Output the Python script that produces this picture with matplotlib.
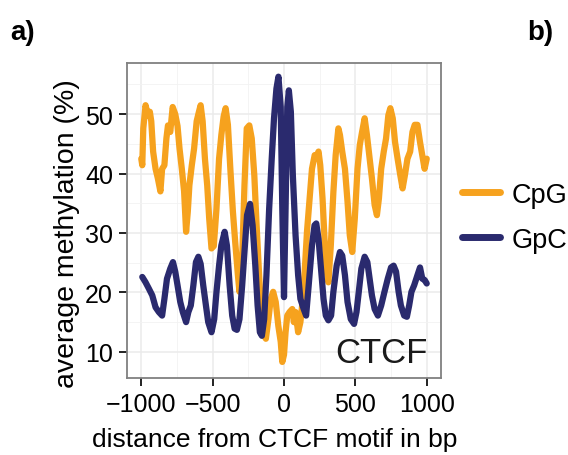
import matplotlib
matplotlib.use("Agg")
import matplotlib.pyplot as plt
from matplotlib.ticker import MultipleLocator

plt.rcParams['font.family'] = ['Liberation Sans', 'DejaVu Sans']

# CpG methylation around CTCF motif
cpg_pos = [-1000, -993, -986, -970, -953, -940, -930, -917, -900, -884, -866, -854,
           -838, -824, -813, -797, -780, -762, -746, -732, -716, -700, -686, -674,
           -663, -646, -630, -612, -596, -584, -570, -554, -538, -524, -508, -492,
           -473, -455, -439, -423, -409, -393, -376, -358, -342, -323, -312, -293,
           -277, -261, -243, -226, -208, -192, -173, -155, -139, -127, -109, -93,
           -76, -58, -40, -23, -12, 0, 11, 23, 39, 58, 69, 81, 99, 115, 127, 145,
           161, 178, 196, 215, 231, 242, 254, 270, 284, 300, 311, 328, 346, 362,
           381, 392, 408, 427, 445, 461, 478, 496, 515, 531, 547, 565, 581, 600,
           616, 635, 651, 665, 681, 699, 715, 731, 745, 762, 778, 796, 815, 831,
           847, 865, 884, 900, 916, 935, 953, 969, 985, 1000]
cpg_val = [42.5, 41.4, 47.6, 51.5, 49.8, 50.4, 48.8, 43.7, 40.8, 39.2, 37.0, 40.8,
           41.4, 45.9, 48.1, 47.0, 51.2, 50.0, 48.0, 44.2, 40.8, 37.0, 30.2, 33.6,
           38.0, 41.4, 44.2, 48.8, 50.4, 51.5, 48.8, 42.5, 38.0, 32.4, 27.4, 27.8,
           34.1, 42.5, 46.5, 49.6, 51.0, 48.2, 40.8, 33.6, 28.5, 22.9, 20.1, 25.7,
           38.0, 47.6, 48.1, 45.9, 39.7, 31.3, 22.3, 15.0, 12.7, 12.2, 15.5, 18.9,
           20.1, 18.4, 14.4, 11.7, 8.3, 9.5, 13.3, 16.1, 16.7, 17.2, 15.0, 16.7,
           13.3, 15.0, 17.8, 23.5, 30.2, 35.3, 40.8, 43.1, 43.1, 43.7, 41.4, 35.8,
           29.0, 23.4, 21.7, 27.9, 36.9, 43.1, 47.6, 46.5, 43.7, 40.8, 35.3, 29.6,
           26.8, 32.4, 40.8, 44.8, 47.0, 49.3, 46.5, 42.5, 39.2, 34.7, 33.0, 35.8,
           40.8, 43.7, 45.9, 49.8, 51.0, 49.3, 45.3, 42.5, 39.7, 37.5, 39.7, 42.5,
           43.7, 47.0, 48.2, 48.2, 45.3, 43.1, 40.8, 42.5]

# GpC methylation around CTCF motif
gpc_pos = [-993, -970, -946, -923, -900, -877, -854, -838, -820, -797, -778, -762,
           -746, -727, -709, -686, -670, -653, -635, -617, -600, -584, -566, -547,
           -531, -508, -489, -473, -455, -439, -416, -400, -381, -363, -346, -330,
           -312, -293, -277, -259, -238, -220, -201, -185, -169, -155, -139, -123,
           -104, -86, -70, -53, -39, -23, -12, 0, 11, 23, 34, 48, 62, 81, 99, 115,
           138, 155, 173, 196, 214, 226, 242, 261, 277, 293, 311, 330, 346, 369,
           392, 408, 427, 445, 468, 491, 508, 524, 542, 565, 584, 600, 616, 635,
           658, 681, 704, 727, 750, 768, 785, 803, 819, 842, 861, 877, 893, 912,
           935, 953, 969, 985, 1000]
gpc_val = [22.6, 21.7, 20.6, 19.5, 17.5, 16.7, 16.1, 18.9, 22.3, 24.0, 25.1, 23.5,
           21.2, 18.4, 16.7, 15.0, 16.7, 17.8, 21.2, 25.1, 26.0, 24.8, 21.2, 17.8,
           15.0, 13.3, 15.5, 20.1, 24.5, 27.9, 30.2, 27.9, 21.2, 16.1, 13.9, 13.7,
           15.5, 21.2, 26.8, 33.0, 34.9, 31.3, 24.5, 17.8, 13.3, 12.7, 15.5, 22.9,
           34.1, 42.5, 49.3, 54.3, 56.3, 51.2, 34.1, 19.2, 34.1, 51.2, 54.0, 50.4,
           39.7, 29.6, 22.9, 18.9, 17.2, 16.1, 21.2, 27.9, 31.3, 31.6, 29.0, 23.5,
           18.9, 16.1, 15.3, 16.1, 20.1, 24.5, 26.8, 26.2, 22.9, 18.4, 15.5, 14.7,
           16.7, 20.1, 24.0, 26.0, 25.1, 22.3, 19.5, 17.2, 16.1, 17.8, 20.1, 22.3,
           24.2, 24.5, 23.5, 20.1, 17.8, 16.1, 15.9, 17.8, 20.1, 21.2, 22.9, 24.2,
           22.3, 22.1, 21.5]

orange = "#F6A21E"
navy = "#2A2A6E"

fig = plt.figure(figsize=(5.68, 4.56), dpi=100)
ax = fig.add_axes([0.2236, 0.1689, 0.5528, 0.6907])

ax.plot(cpg_pos, cpg_val, color=orange, lw=4.5, label="CpG",
        solid_joinstyle="round", solid_capstyle="round")
ax.plot(gpc_pos, gpc_val, color=navy, lw=4.5, label="GpC",
        solid_joinstyle="round", solid_capstyle="round")

ax.set_xlim(-1100, 1100)
ax.set_ylim(5.6, 58.6)
ax.set_xticks([-1000, -500, 0, 500, 1000])
ax.set_xticklabels(["\u22121000", "\u2212500", "0", "500", "1000"])
ax.xaxis.set_minor_locator(MultipleLocator(250))
ax.yaxis.set_major_locator(MultipleLocator(10))
ax.yaxis.set_minor_locator(MultipleLocator(5))
ax.grid(which="major", color="#EBEBEB", lw=1.1)
ax.grid(which="minor", color="#F2F2F2", lw=0.6)
ax.set_axisbelow(True)
for s in ax.spines.values():
    s.set_color("#808080")
    s.set_linewidth(1.3)
ax.tick_params(which="major", length=6, width=1.4, color="#222222",
               labelsize=18, labelcolor="black", pad=4)
ax.tick_params(which="minor", length=0)

ax.set_xlabel("distance from CTCF motif in bp", fontsize=19, labelpad=4)
ax.xaxis.set_label_coords(0.471, -0.155)
ax.xaxis.label.set_va("top")
ax.set_ylabel("average methylation (%)", fontsize=20.5)
ax.yaxis.set_label_coords(-0.191, 0.46)
ax.yaxis.label.set_va("center")

ax.text(0.959, 0.03, "CTCF", transform=ax.transAxes, ha="right", va="bottom",
        fontsize=25, color="#1A1A1A")

leg = ax.legend(loc="center left", bbox_to_anchor=(1.067, 0.51), frameon=False,
                fontsize=19.5, handlelength=1.42, handletextpad=0.4,
                labelspacing=0.7, borderpad=0, borderaxespad=0)
for h in leg.get_lines():
    h.set_linewidth(5)

fig.text(0.018, 0.912, "a)", fontsize=20, fontweight="bold")
fig.text(0.928, 0.912, "b)", fontsize=20, fontweight="bold")

fig.savefig("out.png", dpi=100)
